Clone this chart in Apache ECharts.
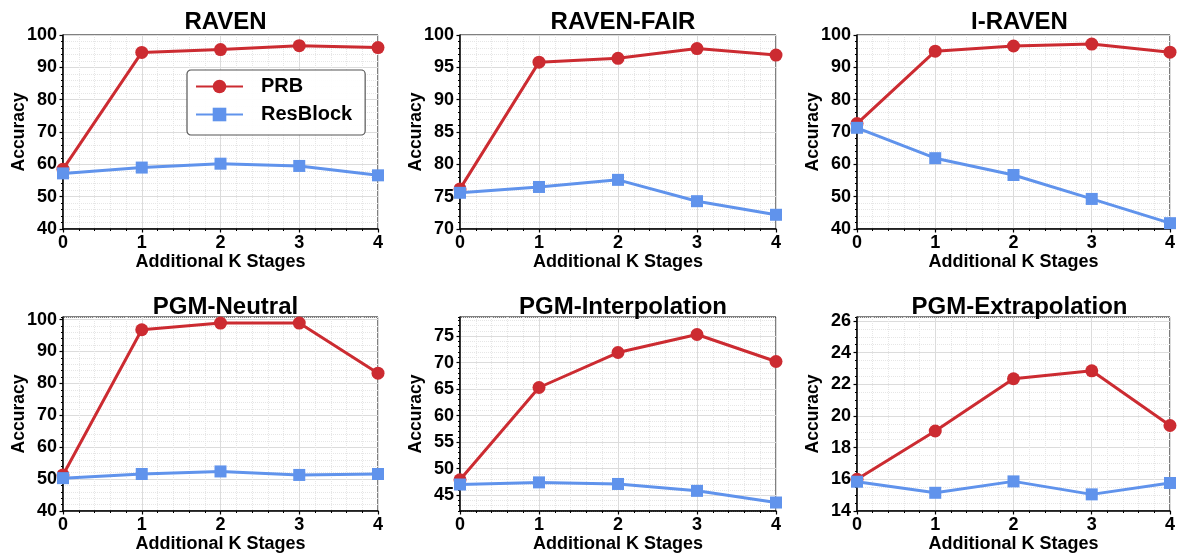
<!DOCTYPE html>
<html><head><meta charset="utf-8">
<script src="https://cdn.jsdelivr.net/npm/echarts@6/dist/echarts.min.js"></script>
<style>html,body{margin:0;padding:0;background:#fff}#c{width:1178px;height:555px}</style>
</head><body><div id="c"></div>
<script>
// ---- data ----
const stages = [0, 1, 2, 3, 4];
const titles = ['RAVEN', 'RAVEN-FAIR', 'I-RAVEN', 'PGM-Neutral', 'PGM-Interpolation', 'PGM-Extrapolation'];
const seriesNames = ['PRB', 'ResBlock'];

const prbRaven = [58.5, 94.6, 95.5, 96.7, 96.1];
const resRaven = [57.2, 59.0, 60.2, 59.5, 56.6];
const prbFair = [76.2, 95.8, 96.4, 97.9, 96.9];
const resFair = [75.6, 76.5, 77.6, 74.3, 72.2];
const prbIRaven = [72.6, 95.0, 96.6, 97.2, 94.7];
const resIRaven = [71.3, 61.9, 56.7, 49.3, 41.8];
const prbNeutral = [51.3, 96.8, 98.9, 98.9, 83.2];
const resNeutral = [50.3, 51.6, 52.4, 51.3, 51.6];
const prbInterp = [47.9, 65.3, 71.9, 75.3, 70.2];
const resInterp = [47.0, 47.4, 47.1, 45.8, 43.6];
const prbExtrap = [16.0, 19.05, 22.35, 22.85, 19.4];
const resExtrap = [15.85, 15.15, 15.87, 15.05, 15.77];

const xTicks = [0, 1, 2, 3, 4];
const yTicksRaven = [40, 50, 60, 70, 80, 90, 100];
const yTicksFair = [70, 75, 80, 85, 90, 95, 100];
const yTicksIRaven = [40, 50, 60, 70, 80, 90, 100];
const yTicksNeutral = [40, 50, 60, 70, 80, 90, 100];
const yTicksInterp = [45, 50, 55, 60, 65, 70, 75];
const yTicksExtrap = [14, 16, 18, 20, 22, 24, 26];

const yRanges = [[40, 100], [70, 100], [40, 100], [40, 100.8], [42, 78.6], [14, 26.25]];
const yMinorSteps = [2, 1, 2, 2, 1, 0.5];

const prbAll = [prbRaven, prbFair, prbIRaven, prbNeutral, prbInterp, prbExtrap];
const resAll = [resRaven, resFair, resIRaven, resNeutral, resInterp, resExtrap];
const yTicksAll = [yTicksRaven, yTicksFair, yTicksIRaven, yTicksNeutral, yTicksInterp, yTicksExtrap];

// ---- layout ----
const FONT = "'Liberation Sans', Arial, sans-serif";
const gridLeft = [63, 460, 857];
const gridWidth = [315, 316, 315];
const gridTop = [35, 317];
const gridHeight = 194;
const RED = '#cc2b31';
const BLUE = '#6093ec';

const grids = [], xAxes = [], yAxes = [], series = [], titleArr = [];
for (let p = 0; p < 6; p++) {
  const r = Math.floor(p / 3), c = p % 3;
  grids.push({left: gridLeft[c], top: gridTop[r], width: gridWidth[c], height: gridHeight,
    show: true, borderColor: '#000', borderWidth: 1, backgroundColor: 'transparent', containLabel: false});
  titleArr.push({text: titles[p], left: gridLeft[c] + gridWidth[c] / 2, top: r === 0 ? 4 : 289, textAlign: 'center',
    textStyle: {fontFamily: FONT, fontSize: 24, fontWeight: 'bold', color: '#000', lineHeight: 26}});
  xAxes.push({gridIndex: p, type: 'value', min: 0, max: 4, interval: 1, position: 'bottom',
    axisLine: {show: true, onZero: false, lineStyle: {color: '#000', width: 1.5}},
    axisTick: {show: true, length: 3.5, lineStyle: {color: '#000', width: 1.2}},
    minorTick: {show: true, splitNumber: 5, length: 2, lineStyle: {color: '#000', width: 1}},
    splitLine: {show: true, lineStyle: {color: '#dcdcdc', width: 1}},
    minorSplitLine: {show: true, lineStyle: {color: '#e6e6e6', width: 1, type: 'dotted'}},
    axisLabel: {show: true, margin: 5, showMinLabel: true, showMaxLabel: true, fontFamily: FONT, fontSize: 18, fontWeight: 'bold', color: '#000',
      customValues: xTicks},
    name: 'Additional K Stages', nameLocation: 'middle', nameGap: 24, nameMoveOverlap: false,
    nameTextStyle: {fontFamily: FONT, fontSize: 18, fontWeight: 'bold', color: '#000'}});
  // minor y axis (dotted grid + minor ticks)
  yAxes.push({gridIndex: p, type: 'value', min: yRanges[p][0], max: yRanges[p][1], interval: yMinorSteps[p], position: 'left',
    axisLine: {show: false}, axisLabel: {show: false},
    axisTick: {show: true, length: 2, lineStyle: {color: '#000', width: 1}},
    splitLine: {show: true, lineStyle: {color: '#e6e6e6', width: 1, type: 'dotted'}}});
  // main y axis
  yAxes.push({gridIndex: p, type: 'value', min: yRanges[p][0], max: yRanges[p][1], position: 'left',
    axisLine: {show: true, onZero: false, lineStyle: {color: '#000', width: 1.5}},
    axisTick: {show: true, length: 3.5, customValues: yTicksAll[p], lineStyle: {color: '#000', width: 1.2}},
    splitLine: {show: true, lineStyle: {color: '#dcdcdc', width: 1}},
    axisLabel: {show: true, margin: 6, customValues: yTicksAll[p], fontFamily: FONT, fontSize: 18, fontWeight: 'bold', color: '#000'},
    name: 'Accuracy', nameLocation: 'middle', nameGap: 35, nameRotate: 90, nameMoveOverlap: false,
    nameTextStyle: {fontFamily: FONT, fontSize: 17.5, fontWeight: 'bold', color: '#000'}});
  const mk = (arr) => stages.map((s, i) => [s, arr[i]]);
  series.push({name: seriesNames[0], type: 'line', xAxisIndex: p, yAxisIndex: 2 * p + 1, data: mk(prbAll[p]),
    symbol: 'circle', symbolSize: 13, color: RED, lineStyle: {color: RED, width: 3}, itemStyle: {color: RED}, z: 3});
  series.push({name: seriesNames[1], type: 'line', xAxisIndex: p, yAxisIndex: 2 * p + 1, data: mk(resAll[p]),
    symbol: 'rect', symbolSize: 12, color: BLUE, lineStyle: {color: BLUE, width: 3}, itemStyle: {color: BLUE}, z: 4});
}

const chart = echarts.init(document.getElementById('c'), null, {renderer: 'canvas'});
chart.setOption({
  animation: false,
  backgroundColor: '#fff',
  title: titleArr,
  grid: grids, xAxis: xAxes, yAxis: yAxes, series: series,
  legend: {show: true, data: seriesNames, orient: 'vertical', left: 187, top: 70,
    itemWidth: 47, itemHeight: 17, itemGap: 5,
    padding: [5, 13, 9, 8],
    backgroundColor: 'rgba(255,255,255,0.92)', borderColor: '#555', borderWidth: 1.2, borderRadius: 4,
    textStyle: {fontFamily: FONT, fontSize: 20, fontWeight: 'bold', color: '#000', lineHeight: 23, padding: [0, 0, 0, 13]}}
});
</script></body></html>
